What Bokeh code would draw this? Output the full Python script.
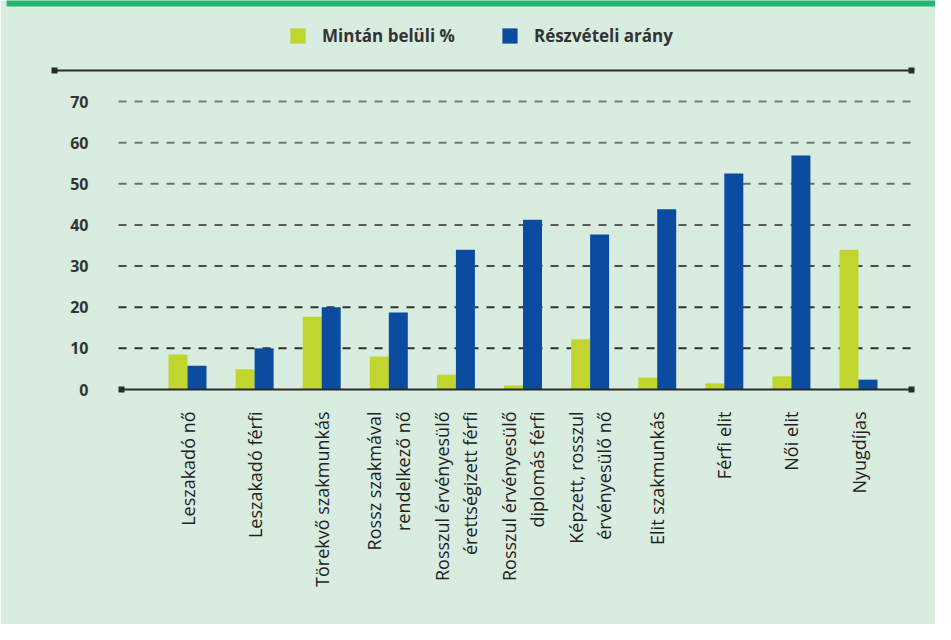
import math
from bokeh.plotting import figure
from bokeh.models import Range1d, FixedTicker, Legend, LegendItem
from bokeh.core.properties import value
from bokeh.embed import file_html
from bokeh.resources import INLINE

# ---- data ----
categories = [
    "Leszakadó nő",
    "Leszakadó férfi",
    "Törekvő szakmunkás",
    "Rossz szakmával\nrendelkező nő",
    "Rosszul érvényesülő\nérettségizett férfi",
    "Rosszul érvényesülő\ndiplomás férfi",
    "Képzett, rosszul\nérvényesülő nő",
    "Elit szakmunkás",
    "Férfi elit",
    "Női elit",
    "Nyugdíjas",
]
sample_pct = [8.5, 4.9, 17.7, 8.0, 3.6, 1.0, 12.2, 2.9, 1.5, 3.2, 34.0]
participation = [5.8, 10.0, 20.0, 18.7, 34.0, 41.3, 37.7, 43.8, 52.5, 56.9, 2.4]
series_names = ["Mintán belüli %", "Részvételi arány"]
y_ticks = [0, 10, 20, 30, 40, 50, 60, 70]

# ---- layout constants (figure pixels) ----
W, H = 935, 624
FL, FR, FT, FB = 6, 935, 0, 624
XPX = 67.1          # px per category
YPX = 4.113         # px per unit
X0_PX = 187         # centre of first group
Y0_PX = 389         # value 0

BG = "#d8ece0"
GREEN = "#c0d62f"
BLUE = "#0c4ca0"
DARK = "#2a2a2a"


def px_x(px):
    return 1 + (px - X0_PX) / XPX


def px_y(py):
    return (Y0_PX - py) / YPX


p = figure(
    width=W, height=H, output_backend="svg", toolbar_location=None,
    x_range=Range1d(px_x(FL), px_x(FR)), y_range=Range1d(px_y(FB), px_y(FT)),
    min_border_left=FL, min_border_right=W - FR,
    min_border_top=FT, min_border_bottom=H - FB,
)
p.background_fill_color = BG
p.border_fill_color = BG
p.outline_line_color = None
p.xgrid.visible = False
p.ygrid.visible = False
p.xaxis.visible = False

# top green stripe
p.quad(left=px_x(FL - 20), right=px_x(FR + 20), bottom=px_y(6), top=px_y(-5),
       fill_color="#28b473", line_color=None)

# top rule with square ends
p.segment(x0=[px_x(54)], x1=[px_x(911)], y0=[px_y(70)], y1=[px_y(70)],
          line_color=DARK, line_width=2)
p.scatter(x=[px_x(54), px_x(911)], y=[px_y(70)] * 2, marker="square", size=6,
          fill_color=DARK, line_color=None)

# dashed gridlines
grid_vals = [t for t in y_ticks if t > 0]
grid_cols = ["#2e2e2e", "#333333", "#484848", "#5c5c5c", "#6c6c6c", "#767676", "#7a7a7a"]
p.segment(x0=[px_x(118)] * len(grid_vals), x1=[px_x(913)] * len(grid_vals),
          y0=grid_vals, y1=grid_vals, line_color=grid_cols, line_width=2,
          line_dash="8 8")

# bars
idx = list(range(1, len(categories) + 1))
bw = 19 / XPX
r1 = p.vbar(x=[i - bw / 2 for i in idx], top=sample_pct, width=bw, bottom=0,
            fill_color=GREEN, line_color=None)
r2 = p.vbar(x=[i + bw / 2 for i in idx], top=participation, width=bw, bottom=0,
            fill_color=BLUE, line_color=None)

# baseline
p.segment(x0=[px_x(121)], x1=[px_x(911)], y0=[0], y1=[0], line_color=DARK, line_width=2)
p.scatter(x=[px_x(121), px_x(911)], y=[0, 0], marker="square", size=6,
          fill_color=DARK, line_color=None)

# category labels (rotated, right-aligned towards the baseline)
p.text(x=idx, y=[px_y(411)] * len(idx), text=categories, angle=math.pi / 2,
       text_align="right", text_baseline="middle", text_font=value("Open Sans"),
       text_font_size="18px", text_color="#222222", text_line_height=1.2)

# legend
legend = Legend(items=[LegendItem(label=series_names[0], renderers=[r1]),
                       LegendItem(label=series_names[1], renderers=[r2])],
                location=(288 - FL, FB - 47), orientation="horizontal")
legend.background_fill_alpha = 0
legend.border_line_color = None
legend.glyph_width = 19
legend.glyph_height = 19
legend.label_height = 19
legend.label_standoff = 15
legend.spacing = 45
legend.padding = 0
legend.margin = 0
legend.label_text_font = "Open Sans"
legend.label_text_font_size = "17px"
legend.label_text_font_style = "bold"
legend.label_text_color = "#333333"
p.add_layout(legend)

# y axis
p.yaxis.ticker = FixedTicker(ticks=y_ticks)
p.yaxis.axis_line_color = None
p.yaxis.major_tick_line_color = None
p.yaxis.minor_tick_line_color = None
p.yaxis.major_tick_out = 0
p.yaxis.major_tick_in = 0
p.yaxis.major_label_standoff = -(88 - FL)
p.yaxis.major_label_text_font = "Open Sans"
p.yaxis.major_label_text_font_size = "16px"
p.yaxis.major_label_text_font_style = "bold"
p.yaxis.major_label_text_color = "#333333"

with open("out.html", "w", encoding="utf-8") as f:
    f.write(file_html(p, INLINE))
